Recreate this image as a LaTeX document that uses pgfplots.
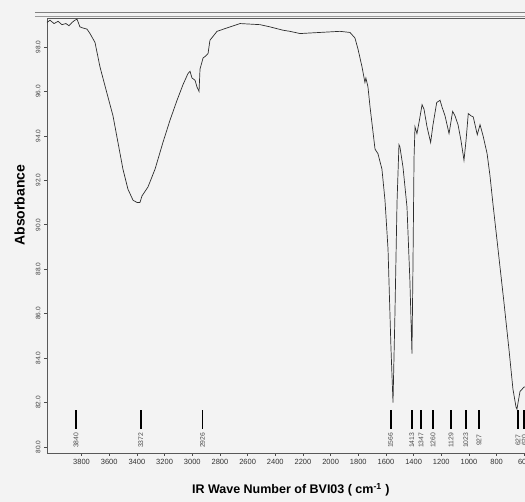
\documentclass[border=0pt]{standalone}
\usepackage{fontspec}
\setmainfont{Liberation Sans}
\usepackage{pgfplots}
\pgfplotsset{compat=1.18}
\definecolor{trace}{RGB}{45,45,45}
\definecolor{paper}{RGB}{243,243,243}
\begin{document}
\begin{tikzpicture}
\path[use as bounding box, fill=paper] (-47pt,-49pt) rectangle (478pt,453pt);
\draw[black!50, line width=0.9pt] (-12pt,441pt) -- (482pt,441pt);
\draw[black!40, line width=0.6pt] (-12pt,437pt) -- (482pt,437pt);
\begin{axis}[
  at={(0pt,0pt)}, anchor=south west,
  width=478pt, height=435pt, scale only axis,
  xmin=595, xmax=4050, x dir=reverse,
  ymin=79.73, ymax=99.3,
  xtick={600,800,...,3800},
  ytick={80,82,...,98},
  axis line style={black!65, line width=0.8pt},
  tick align=outside, tick pos=left, major tick length=3pt,
  tick style={black!70, line width=0.6pt},
  /pgf/number format/assume math mode=true,
  xticklabel style={font=\fontsize{7.5}{8}\selectfont, text=black!80,
    /pgf/number format/1000 sep={}},
  yticklabel style={font=\fontsize{6.5}{7}\selectfont, text=black!75, rotate=90, anchor=south,
    /pgf/number format/.cd, fixed, fixed zerofill, precision=1},
  xlabel={IR Wave Number of BVI03 ( cm\textsuperscript{-1} )},
  xlabel style={font=\fontsize{12.5}{14}\selectfont\bfseries, at={(axis description cs:0.51,0)}, anchor=north, yshift=-27pt},
  ylabel={Absorbance},
  ylabel style={font=\fontsize{14}{16}\selectfont\bfseries, at={(axis description cs:-0.057,0.57)}, anchor=center},
  axis background/.style={fill=paper},
]
\addplot[trace, line width=0.7pt] coordinates {
  (4050,99.10) (4028,99.20) (3999,99.05) (3970,99.15) (3942,99.00) (3913,99.05)
  (3891,98.95) (3869,99.10) (3848,99.20) (3833,99.25) (3812,98.90) (3790,98.85)
  (3761,98.80) (3739,98.60) (3703,98.20) (3667,97.10) (3616,95.90) (3573,94.90)
  (3537,93.70) (3501,92.50) (3465,91.60) (3428,91.10) (3399,91.00) (3378,91.00)
  (3363,91.30) (3320,91.70) (3269,92.50) (3212,93.70) (3161,94.70) (3110,95.60)
  (3067,96.30) (3031,96.80) (3016,96.90) (3002,96.60) (2980,96.50) (2966,96.20)
  (2951,96.00) (2944,97.00) (2922,97.50) (2901,97.60) (2886,97.70) (2872,98.30)
  (2821,98.70) (2727,98.90) (2655,99.05) (2510,99.00) (2438,98.90) (2344,98.75)
  (2294,98.70) (2221,98.60) (2077,98.65) (1932,98.70) (1860,98.65) (1824,98.40)
  (1802,97.90) (1773,97.10) (1752,96.40) (1745,96.60) (1730,96.20) (1715,95.30)
  (1679,93.40) (1658,93.20) (1629,92.50) (1607,91.10) (1585,88.90) (1564,84.50)
  (1549,82.00) (1535,86.00) (1520,91.00) (1506,93.60) (1499,93.50) (1477,92.60)
  (1448,90.80) (1427,87.50) (1412,84.20) (1405,88.00) (1397,93.00) (1390,94.40)
  (1376,94.10) (1361,94.60) (1339,95.40) (1325,95.20) (1303,94.40) (1277,93.70)
  (1260,94.50) (1233,95.50) (1209,95.60) (1195,95.30) (1173,94.90) (1144,94.10)
  (1118,95.10) (1101,94.90) (1079,94.50) (1058,93.80) (1036,92.90) (1021,93.80)
  (1005,95.00) (985,94.90) (969,94.85) (940,94.05) (920,94.50) (898,94.00)
  (869,93.20) (848,92.20) (826,90.90) (790,88.90) (747,86.50) (711,84.40)
  (682,82.60) (660,81.80) (653,81.70) (645,82.00) (631,82.50) (616,82.60)
  (602,82.70) (595,82.70)
};
\pgfplotsinvokeforeach{3840,3372,2926,1566,1413,1347,1260,1129,1023,927}{
  \addplot[black, line width=1.8pt] coordinates {(#1,80.81) (#1,81.67)};
  \node[rotate=90, font=\fontsize{6.8}{7}\selectfont, text=black!70, inner sep=0pt] at (axis cs:#1,80.30) {#1};
}
\addplot[black, line width=1.8pt] coordinates {(645,80.81) (645,81.67)};
\node[rotate=90, font=\fontsize{6.8}{7}\selectfont, text=black!70, inner sep=0pt] at (axis cs:645,80.30) {627};
\addplot[black, line width=1.8pt] coordinates {(600,80.81) (600,81.67)};
\node[rotate=90, font=\fontsize{6.8}{7}\selectfont, text=black!70, inner sep=0pt] at (axis cs:600,80.30) {620};
\end{axis}
\end{tikzpicture}
\end{document}
